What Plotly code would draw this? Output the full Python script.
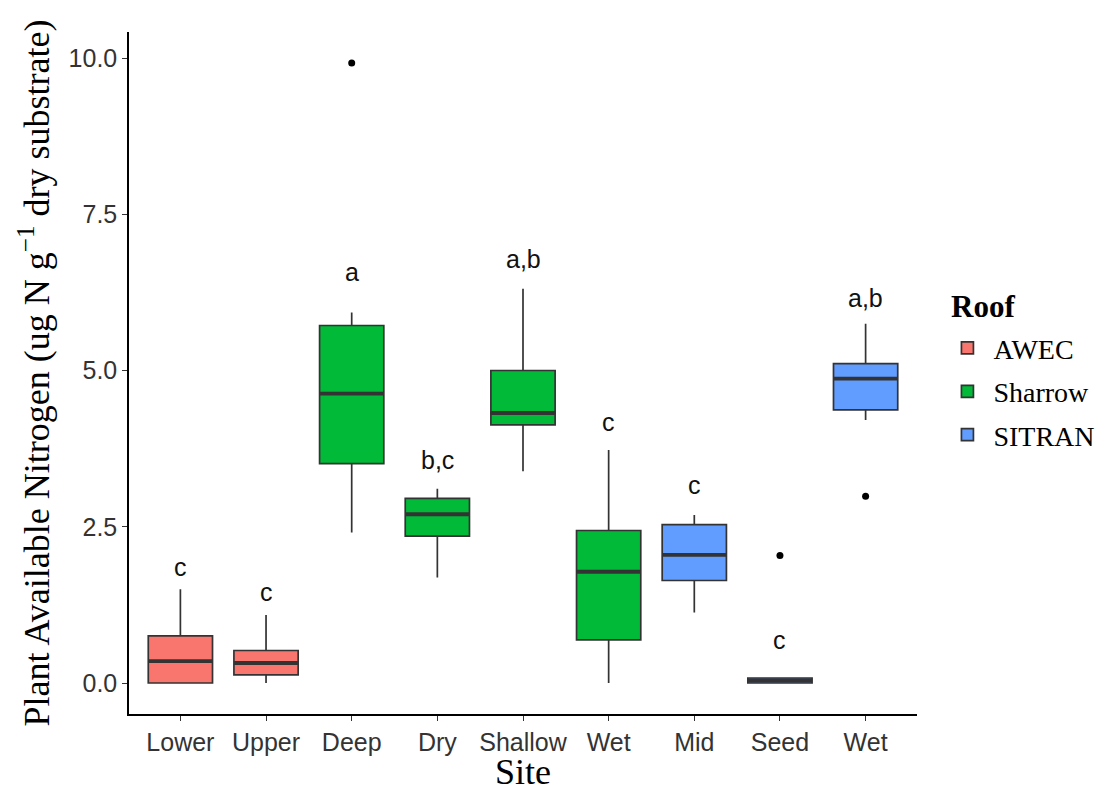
import plotly.graph_objects as go

# Sites along the x axis and the roof each one belongs to
sites = ["Lower", "Upper", "Deep", "Dry", "Shallow", "Wet", "Mid", "Seed", "Wet"]
roofs = ["AWEC", "AWEC", "Sharrow", "Sharrow", "Sharrow", "Sharrow", "SITRAN", "SITRAN", "SITRAN"]

# Five-number summaries (ug N per g dry substrate)
lower_whisker = [0.00, 0.00, 2.41, 1.69, 3.39, 0.00, 1.13, 0.00, 4.21]
q1 = [0.00, 0.13, 3.51, 2.35, 4.13, 0.69, 1.64, 0.00, 4.37]
median = [0.35, 0.32, 4.63, 2.70, 4.32, 1.78, 2.05, 0.04, 4.87]
q3 = [0.755, 0.52, 5.72, 2.955, 5.00, 2.44, 2.535, 0.08, 5.11]
upper_whisker = [1.50, 1.09, 5.93, 3.11, 6.31, 3.73, 2.69, 0.08, 5.75]

# Outlying observations (site index, value)
outlier_site = [2, 7, 8]
outlier_value = [9.92, 2.04, 2.99]

# Tukey group letters and the baseline height they sit on
letters = ["c", "c", "a", "b,c", "a,b", "c", "c", "c", "a,b"]
letter_y = [1.71, 1.31, 6.43, 3.43, 6.64, 4.03, 3.02, 0.54, 6.02]

roof_order = ["AWEC", "Sharrow", "SITRAN"]
roof_colors = {"AWEC": "#F8766D", "Sharrow": "#00BA38", "SITRAN": "#619CFF"}

BOX_W = 0.75
LINE = "#333333"
positions = list(range(len(sites)))

fig = go.Figure()

for roof in roof_order:
    idx = [i for i, r in enumerate(roofs) if r == roof]
    fig.add_trace(go.Box(
        name=roof,
        legendgroup=roof,
        x=[positions[i] for i in idx],
        q1=[q1[i] for i in idx],
        median=[median[i] for i in idx],
        q3=[q3[i] for i in idx],
        lowerfence=[lower_whisker[i] for i in idx],
        upperfence=[upper_whisker[i] for i in idx],
        width=BOX_W,
        whiskerwidth=0,
        fillcolor=roof_colors[roof],
        line=dict(color=LINE, width=1.7),
        boxpoints=False,
        showlegend=True,
    ))

# Heavier median bars on top of each box
mx, my = [], []
for p, m in zip(positions, median):
    mx += [p - BOX_W / 2, p + BOX_W / 2, None]
    my += [m, m, None]
fig.add_trace(go.Scatter(x=mx, y=my, mode="lines",
                         line=dict(color=LINE, width=3.8),
                         showlegend=False, hoverinfo="skip"))

# Outliers
fig.add_trace(go.Scatter(x=[positions[i] for i in outlier_site], y=outlier_value,
                         mode="markers", marker=dict(color="black", size=7),
                         showlegend=False))

# Group letters
for p, t, y in zip(positions, letters, letter_y):
    fig.add_annotation(x=p, y=y, text=t, showarrow=False, yanchor="bottom",
                       yshift=-7, font=dict(family="Liberation Sans", size=25, color="#111111"))

# Legend heading
fig.add_annotation(xref="paper", yref="paper", x=1.04, y=0.597, xanchor="left", yanchor="middle",
                   text="<b>Roof</b>", showarrow=False,
                   font=dict(family="Liberation Serif", size=31, color="black"))

fig.update_layout(
    width=1115, height=792,
    margin=dict(l=129, r=198, t=32, b=78),
    plot_bgcolor="white", paper_bgcolor="white",
    boxmode="overlay",
    legend=dict(
        font=dict(family="Liberation Serif", size=28, color="black"),
        x=1.031, xanchor="left", y=0.573, yanchor="top",
        itemwidth=42, tracegroupgap=4,
        bgcolor="rgba(0,0,0,0)",
    ),
)

fig.update_xaxes(
    range=[-0.6, 8.6],
    automargin=False,
    tickmode="array", tickvals=positions, ticktext=sites,
    showline=True, linecolor="black", linewidth=1.5,
    ticks="outside", ticklen=5, tickcolor=LINE, tickwidth=1,
    showgrid=False, zeroline=False,
    tickfont=dict(family="Liberation Sans", size=25, color="#333333"),
    title=dict(text="Site", font=dict(family="Liberation Serif", size=36, color="black"), standoff=7),
)

fig.update_yaxes(
    range=[-0.496, 10.416],
    automargin=False,
    tickmode="array", tickvals=[0, 2.5, 5, 7.5, 10],
    ticktext=["0.0", "2.5", "5.0", "7.5", "10.0"],
    showline=True, linecolor="black", linewidth=1.5,
    ticks="outside", ticklen=5, tickcolor=LINE, tickwidth=1,
    showgrid=False, zeroline=False,
    tickfont=dict(family="Liberation Sans", size=25, color="#333333"),
    title=dict(text="Plant Available Nitrogen (ug N g<sup>\u22121</sup> dry substrate)",
               font=dict(family="Liberation Serif", size=36, color="black"), standoff=8),
)

fig.write_html("out.html")
